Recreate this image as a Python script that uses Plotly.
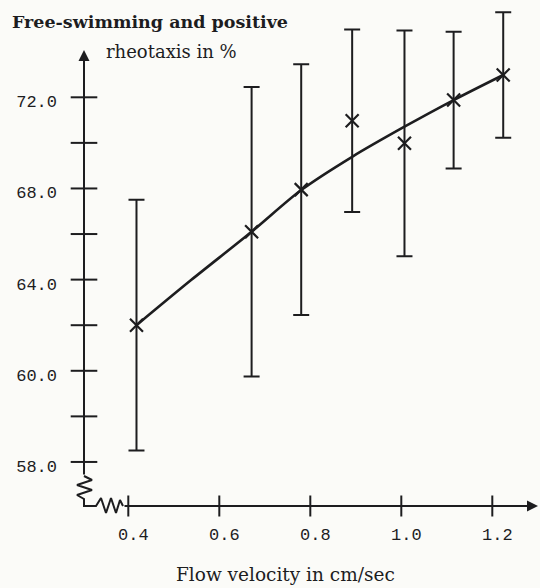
import plotly.graph_objects as go

# ---------------- data ----------------
velocity = [0.418, 0.671, 0.780, 0.892, 1.007, 1.115, 1.224]
mean_pct = [62.0, 66.1, 67.95, 70.97, 69.98, 71.88, 72.98]
sd_pct = [5.5, 6.35, 5.5, 4.0, 4.95, 3.0, 2.75]

curve_x = [0.418, 0.538, 0.671, 0.780, 0.892, 1.007, 1.115, 1.224]
curve_y = [62.0, 63.98, 66.1, 67.93, 69.39, 70.71, 71.88, 72.98]

x_ticks = [0.4, 0.6, 0.8, 1.0, 1.2]
x_tick_text = ["0.4", "0.6", "0.8", "1.0", "1.2"]
y_ticks = [56, 58, 60, 62, 64, 66, 68, 70, 72]
y_tick_text = ["58.0", "", "60.0", "", "64.0", "", "68.0", "", "72.0"]

y_title_1 = "Free-swimming and positive"
y_title_2 = "rheotaxis in %"
x_title = "Flow velocity in cm/sec"

# ---------------- geometry / style ----------------
W, H = 540, 588
XR = [0.11802, 1.30484]
YR = [50.469, 76.2694]
INK = "#1d1d1f"
BG = "#fbfbf8"


def dx(px):
    return XR[0] + px / W * (XR[1] - XR[0])


def dy(py):
    return YR[1] - py / H * (YR[1] - YR[0])


Y_AXIS_X = dx(84)      # where the vertical axis sits (in velocity units)
X_AXIS_Y = dy(506)     # where the horizontal axis sits (in % units)

fig = go.Figure()

# fitted curve
fig.add_trace(go.Scatter(
    x=curve_x, y=curve_y, mode="lines",
    line=dict(color=INK, width=2.6, shape="spline", smoothing=0.8),
    hoverinfo="skip", showlegend=False))

# means with SD error bars
fig.add_trace(go.Scatter(
    x=velocity, y=mean_pct, mode="markers",
    marker=dict(symbol="x-thin", size=13, color=INK,
                line=dict(color=INK, width=2.2)),
    error_y=dict(type="data", array=sd_pct, visible=True,
                 color=INK, thickness=2, width=8),
    showlegend=False, cliponaxis=False))

# axis lines with breaks (zig-zags)
zig_y_px = [(84, 476), (92, 480), (77, 485), (92, 490), (77, 495), (84, 499), (84, 506),
            (96, 506), (101, 498), (106, 513), (111, 498), (116, 513), (120, 500), (123, 506)]
fig.add_trace(go.Scatter(
    x=[dx(p[0]) for p in zig_y_px], y=[dy(p[1]) for p in zig_y_px],
    mode="lines", line=dict(color=INK, width=2),
    hoverinfo="skip", showlegend=False, cliponaxis=False))

# crossing tick marks
fig.add_trace(go.Scatter(
    x=[Y_AXIS_X] * len(y_ticks), y=y_ticks, mode="markers",
    marker=dict(symbol="line-ew", size=19, line=dict(color=INK, width=2)),
    hoverinfo="skip", showlegend=False, cliponaxis=False))
fig.add_trace(go.Scatter(
    x=x_ticks, y=[X_AXIS_Y] * len(x_ticks), mode="markers",
    marker=dict(symbol="line-ns", size=15, line=dict(color=INK, width=2)),
    hoverinfo="skip", showlegend=False, cliponaxis=False))

annotations = [
    # vertical axis with arrow
    dict(x=Y_AXIS_X, y=dy(50), ax=Y_AXIS_X, ay=dy(476),
         xref="x", yref="y", axref="x", ayref="y", text="",
         showarrow=True, arrowhead=2, arrowsize=1.1, arrowwidth=2, arrowcolor=INK),
    # horizontal axis with arrow
    dict(x=dx(538), y=X_AXIS_Y, ax=dx(123), ay=X_AXIS_Y,
         xref="x", yref="y", axref="x", ayref="y", text="",
         showarrow=True, arrowhead=2, arrowsize=1.1, arrowwidth=2, arrowcolor=INK),
    dict(x=10 / W, y=1 - 21.5 / H, xref="paper", yref="paper", text="<b>" + y_title_1 + "</b>",
         showarrow=False, xanchor="left", yanchor="middle",
         font=dict(family="DejaVu Serif", size=17.5, color=INK)),
    dict(x=104 / W, y=1 - 52 / H, xref="paper", yref="paper", text=y_title_2,
         showarrow=False, xanchor="left", yanchor="middle",
         font=dict(family="DejaVu Serif", size=18, color=INK)),
    dict(x=285 / W, y=1 - 574 / H, xref="paper", yref="paper", text=x_title,
         showarrow=False, xanchor="center", yanchor="middle",
         font=dict(family="DejaVu Serif", size=18.5, color=INK)),
]

fig.update_layout(
    width=W, height=H,
    margin=dict(l=0, r=0, t=0, b=0),
    paper_bgcolor=BG, plot_bgcolor=BG,
    showlegend=False,
    annotations=annotations,
    xaxis=dict(range=XR, domain=[0, 1], anchor="free", position=(H - 506) / H,
               tickvals=x_ticks, ticktext=x_tick_text, ticks="",
               ticklabelstandoff=16, ticklabelshift=5, showgrid=False, zeroline=False,
               showline=False,
               tickfont=dict(family="Liberation Mono", size=17, color=INK)),
    yaxis=dict(range=YR, domain=[0, 1], anchor="free", position=84 / W,
               tickvals=y_ticks, ticktext=y_tick_text, ticks="",
               ticklabelstandoff=27, ticklabelshift=4, showgrid=False, zeroline=False,
               showline=False,
               tickfont=dict(family="Liberation Mono", size=17, color=INK)),
)

fig.write_html("out.html")
